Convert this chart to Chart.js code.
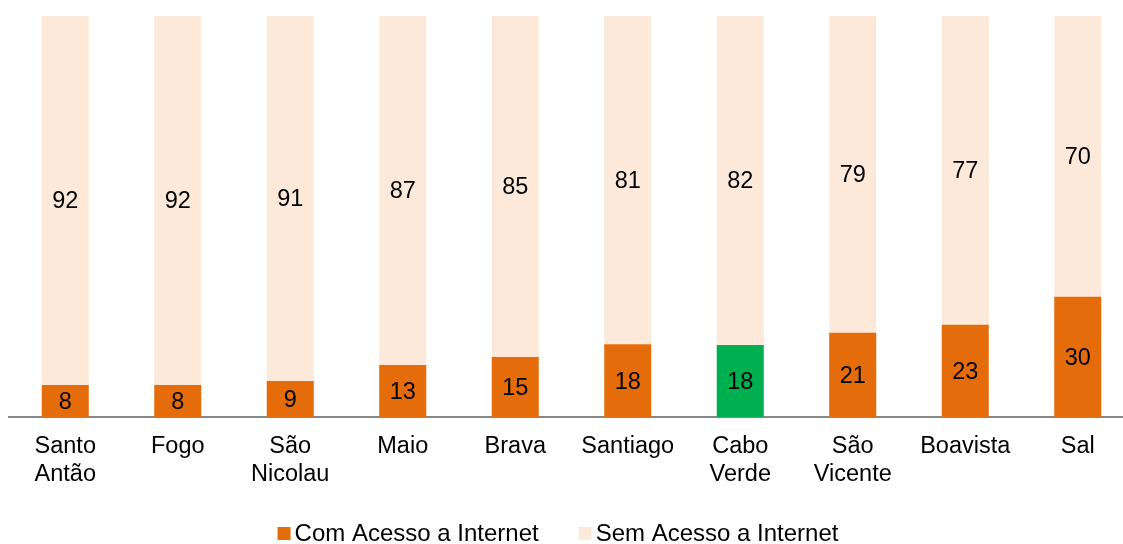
<!DOCTYPE html>
<html>
<head>
<meta charset="utf-8">
<script src="https://cdn.jsdelivr.net/npm/chart.js@4/dist/chart.umd.min.js"></script>
<style>
html,body{margin:0;padding:0;background:#fff;overflow:hidden;}
#wrap{width:1123px;height:544px;position:relative;overflow:hidden;}
#c{position:absolute;left:0;top:0;}
</style>
</head>
<body>
<div id="wrap"><canvas id="c" width="1134" height="544"></canvas></div>
<script>
const categories = [["Santo","Antão"],"Fogo",["São","Nicolau"],"Maio","Brava","Santiago",["Cabo","Verde"],["São","Vicente"],"Boavista","Sal"];
const comAcesso = [8, 8, 9, 13, 15, 18, 18, 21, 23, 30];
const semAcesso = [92, 92, 91, 87, 85, 81, 82, 79, 77, 70];
const seriesNames = ["Com Acesso a Internet", "Sem Acesso a Internet"];
const highlightIndex = 6;

const ORANGE = "#E46C0A";
const GREEN = "#00B050";
const LIGHT = "#FDE9D9";
const FONT = "'Liberation Sans', Arial, sans-serif";

// 100% stacked: each bar is shown as share of its own total
const totals = comAcesso.map((v, i) => v + semAcesso[i]);
const comShare = comAcesso.map((v, i) => v / totals[i] * 100);
const semShare = semAcesso.map((v, i) => v / totals[i] * 100);
const rawValues = [comAcesso, semAcesso];
const legendColors = [ORANGE, LIGHT];

const labelPlugin = {
  id: "barLabels",
  afterDatasetsDraw(chart) {
    const ctx = chart.ctx;
    ctx.save();
    ctx.font = "23.5px " + FONT;
    ctx.fillStyle = "#000";
    ctx.textAlign = "center";
    ctx.textBaseline = "middle";
    chart.data.datasets.forEach((ds, di) => {
      const meta = chart.getDatasetMeta(di);
      meta.data.forEach((el, i) => {
        const y = (el.y + el.base) / 2;
        ctx.fillText(String(rawValues[di][i]), el.x, y + 1.5);
      });
    });
    ctx.restore();
  }
};

const legendPlugin = {
  id: "customLegend",
  afterDraw(chart) {
    const ctx = chart.ctx;
    ctx.save();
    ctx.font = "24px " + FONT;
    ctx.textBaseline = "middle";
    ctx.textAlign = "left";
    const box = 13, gap = 4, spacing = 40;
    const items = chart.data.datasets.map((ds, i) => ({
      text: ds.label, color: legendColors[i], w: ctx.measureText(ds.label).width
    }));
    let total = 0;
    items.forEach((it, i) => { total += box + gap + it.w + (i < items.length - 1 ? spacing : 0); });
    let x = 558 - total / 2;
    const cy = 533;
    items.forEach((it) => {
      ctx.fillStyle = it.color;
      ctx.fillRect(x, cy - 6, box, box);
      ctx.fillStyle = "#000";
      ctx.fillText(it.text, x + box + gap, cy + 1);
      x += box + gap + it.w + spacing;
    });
    ctx.restore();
  }
};

new Chart(document.getElementById("c"), {
  type: "bar",
  data: {
    labels: categories,
    datasets: [
      {
        label: seriesNames[0],
        data: comShare,
        backgroundColor: comAcesso.map((v, i) => i === highlightIndex ? GREEN : ORANGE),
        barPercentage: 0.418,
        categoryPercentage: 1.0
      },
      {
        label: seriesNames[1],
        data: semShare,
        backgroundColor: LIGHT,
        barPercentage: 0.418,
        categoryPercentage: 1.0
      }
    ]
  },
  options: {
    responsive: false,
    animation: false,
    devicePixelRatio: 1,
    layout: { padding: { left: 9, right: 0, top: 16, bottom: 41 } },
    scales: {
      x: {
        stacked: true,
        grid: { display: false, drawTicks: false },
        border: { display: true, color: "#898989", width: 2 },
        ticks: {
          color: "#000",
          font: { family: FONT, size: 23.5, lineHeight: 1.19 },
          padding: 15,
          maxRotation: 0,
          autoSkip: false
        }
      },
      y: {
        stacked: true,
        display: false,
        min: 0,
        max: 100
      }
    },
    plugins: {
      legend: { display: false },
      tooltip: { enabled: false }
    }
  },
  plugins: [labelPlugin, legendPlugin]
});
</script>
</body>
</html>
